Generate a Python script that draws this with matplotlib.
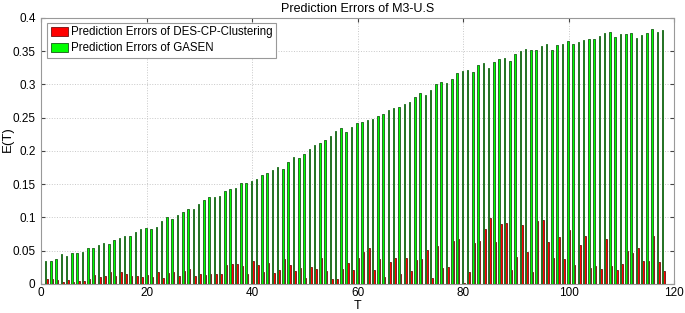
import numpy as np
import matplotlib
matplotlib.use("Agg")
import matplotlib.pyplot as plt

plt.rcParams['font.family'] = ['Liberation Sans', 'DejaVu Sans']

# prediction errors per T (T = 1..118)
gasen = [0.0345, 0.035, 0.038, 0.0445, 0.042, 0.0465, 0.0465, 0.0485, 0.054, 0.0545,
         0.058, 0.0615, 0.060, 0.066, 0.0685, 0.072, 0.072, 0.0775, 0.0825, 0.084,
         0.083, 0.0855, 0.095, 0.1005, 0.0975, 0.1035, 0.1085, 0.112, 0.113, 0.1195,
         0.126, 0.1305, 0.1305, 0.1315, 0.139, 0.143, 0.144, 0.152, 0.152, 0.154,
         0.158, 0.163, 0.1665, 0.1714, 0.175, 0.1734, 0.183, 0.1915, 0.1895, 0.1955,
         0.203, 0.209, 0.2115, 0.217, 0.2226, 0.2306, 0.234, 0.228, 0.2356, 0.242,
         0.2436, 0.246, 0.2476, 0.2526, 0.255, 0.2617, 0.264, 0.2667, 0.2712, 0.2737,
         0.2812, 0.2872, 0.2842, 0.2922, 0.3003, 0.3038, 0.3023, 0.3078, 0.3173, 0.3203,
         0.3213, 0.3188, 0.3293, 0.3318, 0.3253, 0.3333, 0.3388, 0.3393, 0.3353, 0.3454,
         0.3499, 0.3529, 0.3509, 0.3514, 0.3574, 0.3614, 0.3519, 0.3589, 0.3609, 0.3659,
         0.3614, 0.3634, 0.3669, 0.3689, 0.3684, 0.3729, 0.3774, 0.3789, 0.3709, 0.3764,
         0.3754, 0.3769, 0.3699, 0.3744, 0.3774, 0.3830, 0.3794, 0.3814]

des_cp = [0.0075, 0.007, 0.006, 0.003, 0.0065, 0.003, 0.0045, 0.005, 0.008, 0.013,
          0.0105, 0.012, 0.0175, 0.012, 0.018, 0.015, 0.012, 0.012, 0.0105, 0.0135,
          0.0105, 0.018, 0.009, 0.016, 0.0185, 0.012, 0.019, 0.0225, 0.012, 0.015,
          0.014, 0.0145, 0.0145, 0.0145, 0.0285, 0.030, 0.0305, 0.0275, 0.0155, 0.0345,
          0.0285, 0.018, 0.0315, 0.0165, 0.021, 0.037, 0.0285, 0.020, 0.0245, 0.0095,
          0.025, 0.0225, 0.039, 0.019, 0.0075, 0.0075, 0.023, 0.0315, 0.0205, 0.0385,
          0.048, 0.0545, 0.021, 0.037, 0.0105, 0.0335, 0.0385, 0.015, 0.0385, 0.019,
          0.036, 0.037, 0.051, 0.0085, 0.057, 0.024, 0.026, 0.065, 0.0675, 0.002,
          0.018, 0.061, 0.0645, 0.083, 0.099, 0.063, 0.0905, 0.092, 0.021, 0.0405,
          0.089, 0.048, 0.0175, 0.095, 0.096, 0.063, 0.039, 0.0705, 0.0375, 0.081,
          0.0285, 0.059, 0.0715, 0.024, 0.027, 0.0225, 0.067, 0.027, 0.0205, 0.030,
          0.049, 0.0465, 0.054, 0.0345, 0.0345, 0.072, 0.0335, 0.019]

T = np.arange(1, len(gasen) + 1)

fig = plt.figure(figsize=(6.85, 3.13), dpi=100)
ax = fig.add_axes([0.06, 0.093, 0.924, 0.85])

w = 0.29
ax.bar(T + 0.145, des_cp, width=w, color='#ff0000', edgecolor='#701010', linewidth=0.6,
       label='Prediction Errors of DES-CP-Clustering', zorder=3)
ax.bar(T - 0.145, gasen, width=w, color='#00ff00', edgecolor='#257025', linewidth=0.7,
       label='Prediction Errors of GASEN', zorder=3)

ax.set_xlim(0, 120)
ax.set_ylim(0, 0.4)
ax.set_xticks(range(0, 121, 20))
ax.set_yticks(np.arange(0, 0.401, 0.05))
ax.set_yticklabels(['0', '0.05', '0.1', '0.15', '0.2', '0.25', '0.3', '0.35', '0.4'])
ax.tick_params(direction='in', top=True, right=True, labelsize=8.5, length=3,
               color='#444444')
ax.tick_params(axis='x', pad=2)
ax.tick_params(axis='y', pad=4)
ax.grid(True, linestyle=':', color='#c8c8c8', linewidth=0.7, zorder=0)
for s in ax.spines.values():
    s.set_color('#999999')

ax.set_title('Prediction Errors of M3-U.S', fontsize=9, pad=4)
ax.set_xlabel('T', fontsize=9)
ax.xaxis.set_label_coords(0.5, -0.062)
ax.set_ylabel('E(T)', fontsize=9.5)
ax.yaxis.set_label_coords(-0.043, 0.545)

leg = ax.legend(loc='upper left', fontsize=8.3, fancybox=False, framealpha=1,
                edgecolor='#999999', handlelength=1.55, handleheight=0.9,
                borderpad=0.3, labelspacing=0.35, handletextpad=0.2,
                borderaxespad=0, bbox_to_anchor=(0.0095, 0.981))
leg.get_frame().set_linewidth(0.8)

fig.savefig('out.png', dpi=100)
